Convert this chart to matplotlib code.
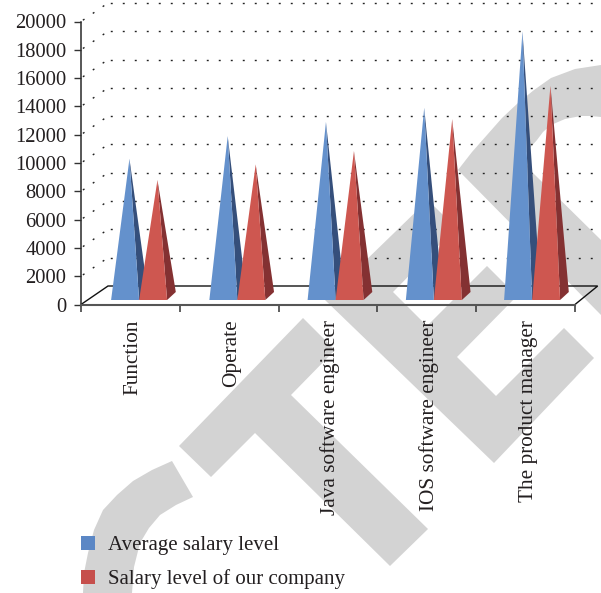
import matplotlib
matplotlib.use("Agg")
import matplotlib.pyplot as plt
from matplotlib.patches import Patch, Polygon
from matplotlib.transforms import Affine2D, ScaledTranslation

categories = ["Function", "Operate", "Java software engineer",
              "IOS software engineer", "The product manager"]
average_salary = [9700, 11300, 12300, 13300, 18700]
company_salary = [8200, 9300, 10250, 12500, 14850]
series_names = ["Average salary level", "Salary level of our company"]
y_ticks = list(range(0, 20001, 2000))

W, H = 601, 593
AX_L, AX_R, AX_T, AX_B = 81, 575, 21.5, 304.5
TEXT = "#231F20"
FONT = "Liberation Serif"
plt.rcParams["font.family"] = [FONT, "DejaVu Serif"]

fig = plt.figure(figsize=(W / 100, H / 100), dpi=100, facecolor="white")
ax = fig.add_axes([AX_L / W, 1 - AX_B / H, (AX_R - AX_L) / W, (AX_B - AX_T) / H])
ax.patch.set_alpha(0)
ax.set_xlim(0, len(categories))
ax.set_ylim(0, 20000)

PX_X = len(categories) / (AX_R - AX_L)   # category units per pixel
PX_Y = 20000 / (AX_B - AX_T)             # value units per pixel

# watermark behind the chart, in image pixels (origin top-left)
px = Affine2D().scale(1 / W, -1 / H).translate(0, 1) + fig.transFigure
WM = "#D3D3D3"
watermark = [
    [(179, 446), (303, 318), (335, 350), (291, 395), (428, 529), (390, 566), (255, 433), (211, 477)],
    [(325, 300), (428, 200), (456, 228), (393, 292), (427, 326), (487, 266), (517, 296), (457, 357),
     (496, 396), (564, 328), (594, 358), (494, 463)],
    [(458, 170), (472, 152), (487, 135), (502, 118), (518, 103), (534, 90), (551, 78), (575, 69), (601, 65),
     (601, 117), (590, 116), (581, 116), (565, 119), (551, 125), (543, 132), (537, 140), (529, 149), (522, 158),
     (533, 173), (601, 240), (601, 315)],
    [(172, 461), (152, 470), (133, 481), (117, 495), (103, 510), (94, 530), (88, 553), (84, 573), (83, 593),
     (132, 593), (134, 567), (140, 543), (149, 528), (160, 515), (176, 505), (193, 497)],
]
for pts in watermark:
    fig.add_artist(Polygon(pts, closed=True, transform=px, facecolor=WM, edgecolor="none", zorder=-5))

# 3-D frame
BACK_DX, BACK_DX_R, BACK_DY = 27 * PX_X, 22.7 * PX_X, 18.5 * PX_Y
n = len(categories)
ax.plot([0, BACK_DX, n + BACK_DX_R, n], [0, BACK_DY, BACK_DY, 0], color="#111111", lw=1.0,
        clip_on=False, zorder=2, solid_joinstyle="miter")
dots = (7, (1.4, 7.24))
for v in y_ticks[1:]:
    ax.plot([0, BACK_DX], [v, v + BACK_DY], color="#222222", lw=1.0, ls=dots, clip_on=False, zorder=1)
    ax.plot([BACK_DX, n + BACK_DX_R], [v + BACK_DY, v + BACK_DY], color="#222222", lw=1.0, ls=dots,
            clip_on=False, zorder=1)

# pyramids
BASE_W = 28 * PX_X
FRONT_DY, BACK_BASE_DY = 4.5 * PX_Y, 12.5 * PX_Y
APEX_DY = 8.5 * PX_Y
DEPTH_X = 8.7 * PX_X
styles = [("#6491CC", "#354F7B", -1), ("#CE5750", "#843132", 0)]
z = 3
for vals, (front, side, shift) in zip([average_salary, company_salary], styles):
    for i, v in enumerate(vals):
        off = (8.7 - 0.55 * i) * PX_X
        left = i + 0.5 + off + shift * BASE_W
        right = left + BASE_W
        apex_x = (left + right) / 2 + DEPTH_X / 2
        apex_y = v + APEX_DY
        ax.fill([right, right + DEPTH_X, apex_x], [FRONT_DY, BACK_BASE_DY, apex_y],
                color=side, lw=0, clip_on=False, zorder=z)
        ax.fill([left, right, apex_x], [FRONT_DY, FRONT_DY, apex_y],
                color=front, lw=0, clip_on=False, zorder=z + 0.5)
    z += 1

# axes
for s in ("top", "right"):
    ax.spines[s].set_visible(False)
ax.spines["left"].set_color("#2A2A2A")
ax.spines["left"].set_linewidth(1.1)
ax.spines["bottom"].set_color("#555555")
ax.spines["bottom"].set_linewidth(1.5)
ax.set_yticks(y_ticks)
ax.set_yticklabels([str(t) for t in y_ticks], fontsize=14.8, color=TEXT)
ax.tick_params(axis="y", length=5.2, width=1.0, color="#333333", pad=5.5)
ax.set_xticks(range(n + 1))
ax.set_xticklabels([])
ax.tick_params(axis="x", which="major", length=5.2, width=1.1, color="#333333")
ax.set_xticks([i + 0.5 for i in range(n)], minor=True)
ax.set_xticklabels(categories, minor=True, rotation=90, fontsize=15.3, color=TEXT, ha="center", va="top")
ax.tick_params(axis="x", which="minor", length=0, pad=11)
nudge = ScaledTranslation(2.5 / 100, 0, fig.dpi_scale_trans)
for lab in ax.get_xticklabels(minor=True):
    lab.set_transform(lab.get_transform() + nudge)

# legend
handles = [Patch(facecolor="#5B87C5", label=series_names[0]),
           Patch(facecolor="#C64F4C", label=series_names[1])]
fig.legend(handles=handles, loc="upper left", bbox_to_anchor=(AX_L / W, 1 - 536 / H), frameon=False,
           fontsize=15, labelcolor=TEXT, handlelength=0.67, handleheight=0.67, handletextpad=0.62,
           labelspacing=0.67, borderpad=0, borderaxespad=0)

fig.savefig("out.png", dpi=100)
